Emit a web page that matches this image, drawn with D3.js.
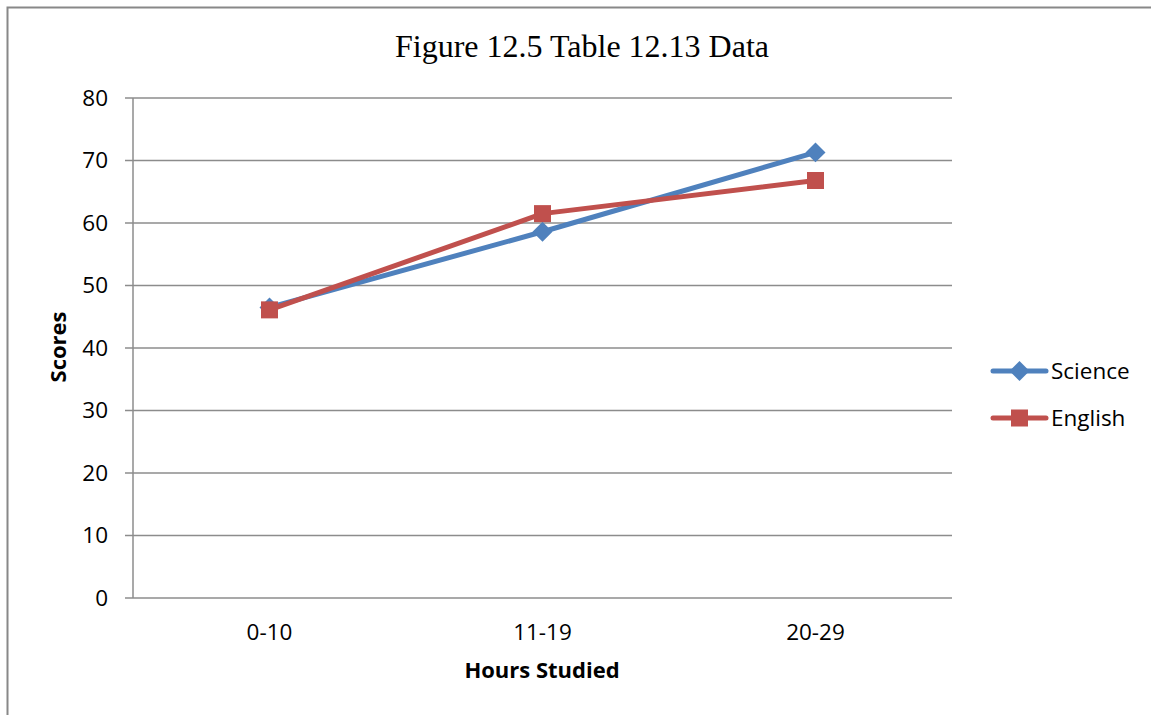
<!DOCTYPE html>
<html><head><meta charset="utf-8">
<script src="https://cdn.jsdelivr.net/npm/d3@7"></script>
<style>html,body{margin:0;padding:0;background:#fff;overflow:hidden}</style>
</head><body>
<svg id="c" width="1151" height="715"></svg>
<script>
const categories = ["0-10", "11-19", "20-29"];
const science = [46.5, 58.6, 71.3];
const english = [46.1, 61.5, 66.8];
const yTicks = [0, 10, 20, 30, 40, 50, 60, 70, 80];
const seriesNames = ["Science", "English"];
const seriesColors = ["#4F81BD", "#C0504D"];
const titleText = "Figure 12.5 Table 12.13 Data";
const xTitle = "Hours Studied";
const yTitle = "Scores";

const svg = d3.select("#c");
const font = "'Open Sans', sans-serif";
const L = 133, R = 952, T = 98, B = 598;

// outer frame
svg.append("rect").attr("x", 7.5).attr("y", 7.5).attr("width", 1200).attr("height", 800)
  .attr("fill", "none").attr("stroke", "#888").attr("stroke-width", 2);

const x = d3.scaleBand().domain(categories).range([L, R]);
const y = d3.scaleLinear().domain([0, 80]).range([B, T]);

// gridlines
svg.append("g").selectAll("line").data(yTicks).join("line")
  .attr("x1", L - 8).attr("x2", R).attr("y1", d => y(d)).attr("y2", d => y(d))
  .attr("stroke", "#8c8c8c").attr("stroke-width", 1.5);
// y axis line
svg.append("line").attr("x1", L).attr("x2", L).attr("y1", T).attr("y2", B)
  .attr("stroke", "#8c8c8c").attr("stroke-width", 1.5);

// y tick labels
svg.append("g").selectAll("text").data(yTicks).join("text")
  .attr("x", 108).attr("y", d => y(d)).attr("dy", "0.35em")
  .attr("text-anchor", "end").attr("font-family", font).attr("font-size", 22.5)
  .attr("fill", "#000").text(d => d);

// x tick labels
svg.append("g").selectAll("text").data(categories).join("text")
  .attr("x", d => x(d) + x.bandwidth() / 2).attr("y", 640)
  .attr("text-anchor", "middle").attr("font-family", font).attr("font-size", 22.5)
  .attr("fill", "#000").text(d => d);

// title
svg.append("text").attr("x", 582).attr("y", 57).attr("text-anchor", "middle")
  .attr("font-family", "'Liberation Serif','Times New Roman',serif").attr("font-size", 32)
  .attr("fill", "#000").text(titleText);

// axis titles
svg.append("text").attr("x", 542).attr("y", 678).attr("text-anchor", "middle")
  .attr("font-family", font).attr("font-size", 22).attr("font-weight", "bold")
  .text(xTitle);
svg.append("text").attr("transform", "translate(66,347) rotate(-90)")
  .attr("text-anchor", "middle").attr("font-family", font).attr("font-size", 22)
  .attr("font-weight", "bold").text(yTitle);

const line = d3.line().x((d, i) => x(categories[i]) + x.bandwidth() / 2).y(d => y(d));
const data = [science, english];

function drawMarker(g, kind, cx, cy, color) {
  if (kind === 0) {
    g.append("path").attr("d", d3.symbol().type(d3.symbolSquare).size(200)())
      .attr("transform", `translate(${cx},${cy}) rotate(45)`).attr("fill", color);
  } else {
    g.append("rect").attr("x", cx - 8.5).attr("y", cy - 8.5).attr("width", 17).attr("height", 17)
      .attr("fill", color);
  }
}

data.forEach((vals, s) => {
  const g = svg.append("g");
  g.append("path").attr("d", line(vals)).attr("fill", "none")
    .attr("stroke", seriesColors[s]).attr("stroke-width", 5).attr("stroke-linejoin", "round");
  vals.forEach((v, i) => drawMarker(g, s, x(categories[i]) + x.bandwidth() / 2, y(v), seriesColors[s]));
});

// legend
const legY = [371, 418];
seriesNames.forEach((n, s) => {
  const g = svg.append("g");
  g.append("line").attr("x1", 993).attr("x2", 1046).attr("y1", legY[s]).attr("y2", legY[s])
    .attr("stroke", seriesColors[s]).attr("stroke-width", 5).attr("stroke-linecap", "round");
  drawMarker(g, s, 1019.5, legY[s], seriesColors[s]);
  g.append("text").attr("x", 1051).attr("y", legY[s]).attr("dy", "0.35em")
    .attr("font-family", font).attr("font-size", 22.5).attr("fill", "#000").text(n);
});
</script>
</body></html>
